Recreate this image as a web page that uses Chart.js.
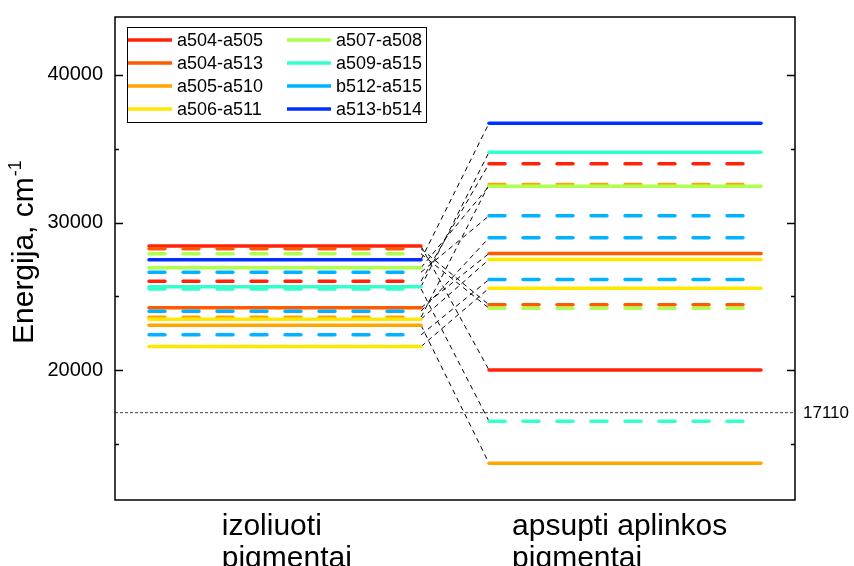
<!DOCTYPE html>
<html>
<head>
<meta charset="utf-8">
<script src="https://cdn.jsdelivr.net/npm/chart.js@4"></script>
<style>
  html, body { margin: 0; padding: 0; background: #fff; }
  #wrap { width: 854px; height: 566px; }
</style>
</head>
<body>
<div id="wrap"><canvas id="levelChart" width="854" height="566"></canvas></div>
<script>
// Pigment pairs (legend) and their colours
const pairNames = ['a504-a505', 'a504-a513', 'a505-a510', 'a506-a511', 'a507-a508', 'a509-a515', 'b512-a515', 'a513-b514'];
const pairColors = ['#FF2208', '#FF5A00', '#FFA500', '#FFE800', '#B0FF4C', '#33FFCC', '#00B2FF', '#0030FF'];

// one entry per energy level: which pair it belongs to and which exciton state (1 = solid, 2 = dashed)
const levelPair  = [0, 0, 1, 1, 2, 2, 3, 3, 4, 4, 5, 5, 6, 6, 6, 7];
const levelState = [1, 2, 1, 2, 1, 2, 1, 1, 1, 2, 1, 2, 2, 2, 2, 1];
// energies, cm-1
const isolatedE   = [28400, 26020, 24215, 28220, 23040, 23580, 23445, 21590, 26930, 27880, 25650, 25500, 26630, 23990, 22386, 27470];
const surroundedE = [20000, 33980, 27900, 24420, 13680, 32576, 27490, 25545, 32460, 24190, 34766, 16530, 30450, 28960, 26135, 36730];

const groupLabels = [['izoliuoti', 'pigmentai'], ['apsupti aplinkos', 'pigmentai']];
const groupStarts = [1.57, 5.84];
const yTickValues = [20000, 30000, 40000];
const refEnergy = 17110;

(function () {
  const ctx = document.getElementById('levelChart').getContext('2d');
  const FONT = '"Liberation Sans", Arial, sans-serif';

  const datasets = [];
  const n = isolatedE.length;

  // energy levels, later ones on top
  for (let i = 0; i < n; i++) {
    const col = pairColors[levelPair[i]];
    const dash = levelState[i] === 2 ? [16, 18] : [];
    [[0.5, 4.5, isolatedE[i]], [5.5, 9.5, surroundedE[i]]].forEach(function (seg) {
      datasets.push({
        data: [{ x: seg[0], y: seg[2] }, { x: seg[1], y: seg[2] }],
        borderColor: col,
        borderWidth: 3.5,
        borderDash: dash,
        borderCapStyle: 'round',
        order: n - i,
      });
    });
  }

  // connectors between the two columns
  for (let i = 0; i < n; i++) {
    datasets.push({
      data: [{ x: 4.5, y: isolatedE[i] }, { x: 5.5, y: surroundedE[i] }],
      borderColor: '#000',
      borderWidth: 1,
      borderDash: [5, 4],
      order: 100,
    });
  }

  // reference line
  datasets.push({
    data: [{ x: 0, y: refEnergy }, { x: 10, y: refEnergy }],
    borderColor: '#444',
    borderWidth: 1,
    borderDash: [3, 2],
    order: 101,
  });

  const decorPlugin = {
    id: 'decor',
    afterDraw(chart) {
      const c = chart.ctx;
      const a = chart.chartArea;
      const ys = chart.scales.y;
      c.save();

      // frame
      c.strokeStyle = '#000';
      c.lineWidth = 1.5;
      c.strokeRect(a.left, a.top, a.right - a.left, a.bottom - a.top);

      // inward ticks on left and right
      for (let v = 15000; v <= 40000; v += 5000) {
        const py = Math.round(ys.getPixelForValue(v)) + 0.5;
        const len = v % 10000 === 0 ? 8 : 4;
        c.beginPath();
        c.moveTo(a.left, py); c.lineTo(a.left + len, py);
        c.moveTo(a.right, py); c.lineTo(a.right - len, py);
        c.stroke();
      }

      // reference label
      c.fillStyle = '#000';
      c.font = '17px ' + FONT;
      c.textAlign = 'left';
      c.textBaseline = 'middle';
      c.fillText(String(refEnergy), a.right + 8, ys.getPixelForValue(refEnergy) + 1);

      // y title with superscript
      c.translate(33, 344);
      c.rotate(-Math.PI / 2);
      c.textBaseline = 'alphabetic';
      c.font = '30px ' + FONT;
      c.fillText('Energija, cm', 0, 0);
      const w = c.measureText('Energija, cm').width;
      c.font = '18px ' + FONT;
      c.fillText('-1', w + 1, -12);
      c.setTransform(1, 0, 0, 1, 0, 0);

      // legend, two columns
      const bx = 127, by = 27, bw = 299, bh = 95;
      c.fillStyle = '#fff';
      c.fillRect(bx, by, bw, bh);
      c.strokeStyle = '#000';
      c.lineWidth = 1;
      c.strokeRect(bx + 0.5, by + 0.5, bw, bh);
      c.font = '18px ' + FONT;
      c.textBaseline = 'middle';
      pairNames.forEach(function (name, k) {
        const colX = k < 4 ? 128 : 287;
        const rowY = 40 + (k % 4) * 23;
        c.strokeStyle = pairColors[k];
        c.lineWidth = 3.5;
        c.beginPath();
        c.moveTo(colX, rowY); c.lineTo(colX + 44, rowY);
        c.stroke();
        c.fillStyle = '#000';
        c.fillText(name, colX + 49, rowY + 1);
      });

      c.restore();
    },
  };

  new Chart(ctx, {
    type: 'scatter',
    data: { datasets: datasets },
    options: {
      responsive: false,
      animation: false,
      showLine: true,
      elements: { point: { radius: 0, hoverRadius: 0 }, line: { tension: 0 } },
      layout: { padding: { left: 0, right: 59, top: 17, bottom: 0 } },
      plugins: { legend: { display: false }, tooltip: { enabled: false } },
      scales: {
        x: {
          type: 'linear',
          min: 0,
          max: 10,
          grid: { display: false, drawTicks: false },
          border: { display: false },
          afterFit: function (scale) {
            scale.height = 66;
            scale.paddingLeft = 0; scale.paddingRight = 0;
            scale.paddingTop = 0; scale.paddingBottom = 0;
          },
          afterBuildTicks: function (scale) {
            scale.ticks = groupStarts.map(function (v) { return { value: v }; });
          },
          ticks: {
            padding: 11,
            align: 'start',
            maxRotation: 0,
            autoSkip: false,
            color: '#000',
            font: { size: 30, family: FONT, lineHeight: 1.05 },
            callback: function (value) {
              const idx = groupStarts.indexOf(value);
              return idx >= 0 ? groupLabels[idx] : '';
            },
          },
        },
        y: {
          min: 11190,
          max: 43930,
          grid: { display: false, drawTicks: false },
          border: { display: false },
          afterFit: function (scale) {
            scale.width = 115;
            scale.paddingLeft = 0; scale.paddingRight = 0;
            scale.paddingTop = 0; scale.paddingBottom = 0;
          },
          afterBuildTicks: function (scale) {
            scale.ticks = yTickValues.map(function (v) { return { value: v }; });
          },
          ticks: {
            padding: 12,
            color: '#000',
            font: { size: 20, family: FONT },
            callback: function (value) { return String(value); },
          },
        },
      },
    },
    plugins: [decorPlugin],
  });
})();
</script>
</body>
</html>
